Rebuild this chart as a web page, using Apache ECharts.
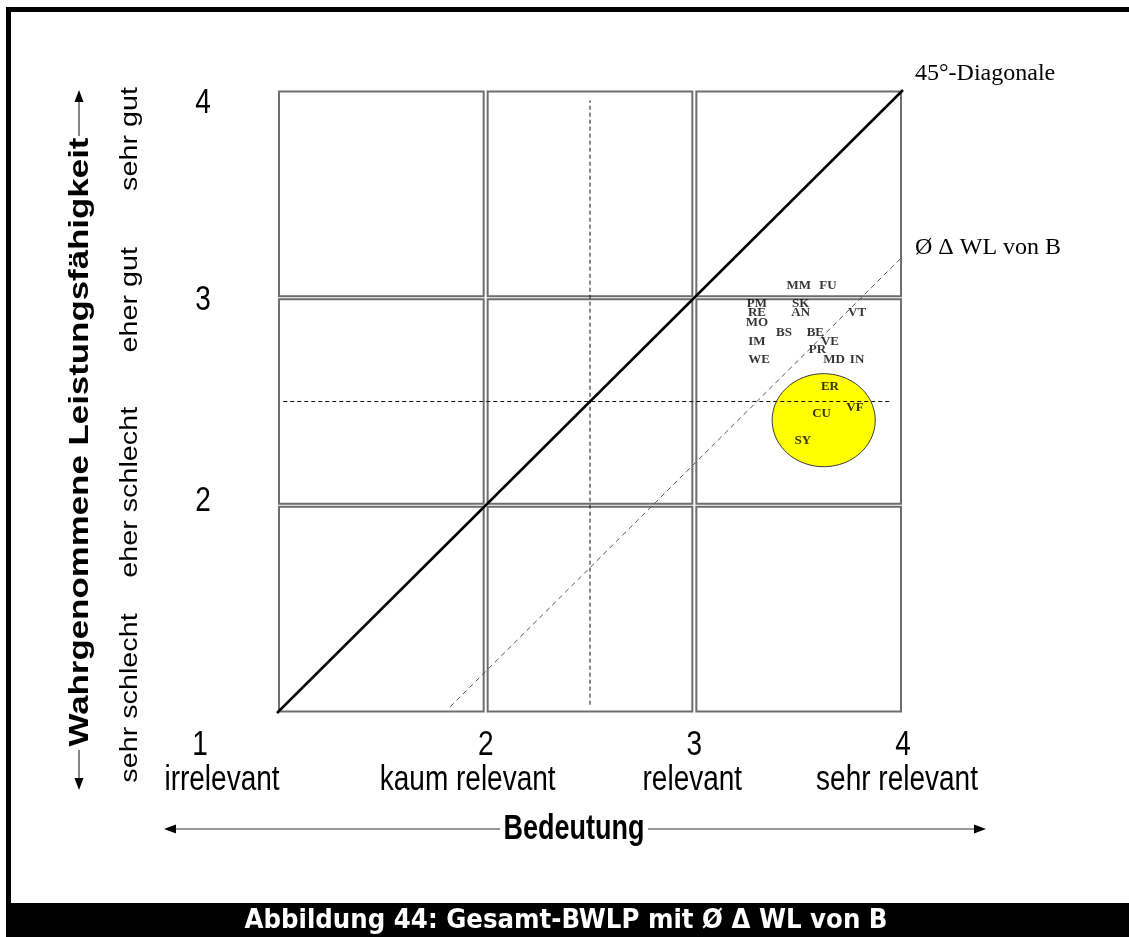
<!DOCTYPE html>
<html>
<head>
<meta charset="utf-8">
<script src="https://cdn.jsdelivr.net/npm/echarts@6/dist/echarts.min.js"></script>
<style>
html, body { margin: 0; padding: 0; background: #fff; }
#main { width: 1129px; height: 937px; }
</style>
</head>
<body>
<div id="main"></div>
<script>
// Skala 1..4 auf beiden Achsen
const xTicks = [1, 2, 3, 4];
const xTickWords = ['irrelevant', 'kaum relevant', 'relevant', 'sehr relevant'];
const yTicks = [2, 3, 4];
const yTickWords = ['sehr schlecht', 'eher schlecht', 'eher gut', 'sehr gut'];

// Kürzel der Merkmale mit Bedeutung (x) und wahrgenommener Leistungsfähigkeit (y)
const codes = ['MM', 'FU', 'PM', 'RE', 'MO', 'SK', 'AN', 'VT', 'BS', 'BE', 'VE', 'IM', 'PR', 'WE', 'MD', 'IN', 'ER', 'VF', 'CU', 'SY'];
const bedeutung = [3.50, 3.64, 3.30, 3.30, 3.30, 3.51, 3.51, 3.78, 3.43, 3.58, 3.65, 3.30, 3.59, 3.31, 3.67, 3.78, 3.65, 3.77, 3.61, 3.52];
const leistung = [3.06, 3.06, 2.97, 2.93, 2.88, 2.97, 2.93, 2.93, 2.83, 2.83, 2.79, 2.79, 2.75, 2.70, 2.70, 2.70, 2.57, 2.47, 2.44, 2.31];

// Hilfslinien
const diagonale = [[1, 1], [4, 4]];
const deltaWL = [[1.83, 1.03], [4, 3.2]];
const mitteSenkrecht = [[2.5, 1.04], [2.5, 3.95]];
const mitteWaagrecht = [[1.03, 2.5], [3.94, 2.5]];

// gelbe Ellipse: Mittelpunkt x, y und Halbachsen
const ellipse = [[3.62, 2.41, 0.247, 0.224]];

// 3x3 Felder [x0, x1, y0, y1]
const felder = [
    [1, 2, 1, 2], [2, 3, 1, 2], [3, 4, 1, 2],
    [1, 2, 2, 3], [2, 3, 2, 3], [3, 4, 2, 3],
    [1, 2, 3, 4], [2, 3, 3, 4], [3, 4, 3, 4]
];

const myChart = echarts.init(document.getElementById('main'));

const dashed = (data, color, dash) => ({
    type: 'line', data, symbol: 'none', silent: true, z: 4,
    lineStyle: { color, width: 1, type: dash }
});

const option = {
    animation: false,
    backgroundColor: '#fff',
    grid: { left: 277, right: 226, top: 90, bottom: 224 },
    xAxis: {
        type: 'value', min: 1, max: 4, interval: 1,
        axisLine: { show: false }, axisTick: { show: false },
        axisLabel: { show: false }, splitLine: { show: false }
    },
    yAxis: {
        type: 'value', min: 1, max: 4, interval: 1,
        axisLine: { show: false }, axisTick: { show: false },
        axisLabel: { show: false }, splitLine: { show: false }
    },
    series: [
        {
            // Felder
            type: 'custom', data: felder, silent: true, z: 1,
            encode: { x: [0, 1], y: [2, 3] },
            renderItem: (params, api) => {
                const p0 = api.coord([api.value(0), api.value(3)]);
                const p1 = api.coord([api.value(1), api.value(2)]);
                return {
                    type: 'rect',
                    shape: { x: p0[0] + 2, y: p0[1] + 1.5, width: p1[0] - p0[0] - 4, height: p1[1] - p0[1] - 3 },
                    style: { fill: '#fff', stroke: '#6e6e6e', lineWidth: 2 }
                };
            }
        },
        {
            // Ellipse
            type: 'custom', data: ellipse, silent: true, z: 2,
            encode: { x: 0, y: 1 },
            renderItem: (params, api) => {
                const c = api.coord([api.value(0), api.value(1)]);
                const s = api.size([api.value(2), api.value(3)]);
                const pts = [];
                for (let k = 0; k < 90; k++) {
                    const a = k / 90 * Math.PI * 2;
                    pts.push([c[0] + s[0] * Math.cos(a), c[1] + s[1] * Math.sin(a)]);
                }
                return {
                    type: 'polygon', shape: { points: pts },
                    style: { fill: '#ffff00', stroke: '#3a3a3a', lineWidth: 1 }
                };
            }
        },
        dashed(mitteSenkrecht, '#111', [4, 3]),
        dashed(mitteWaagrecht, '#111', [4, 3]),
        dashed(deltaWL, '#555', [5, 4]),
        {
            type: 'line', data: diagonale, symbol: 'none', silent: true, z: 5,
            lineStyle: { color: '#000', width: 2.5 }
        },
        {
            type: 'scatter', silent: true, z: 6, symbolSize: 0,
            data: codes.map((c, i) => ({ name: c, value: [bedeutung[i], leistung[i]] })),
            label: {
                show: true, position: 'inside', formatter: '{b}',
                fontFamily: 'Liberation Serif', fontWeight: 'bold', fontSize: 13, color: '#000'
            }
        }
    ]
};
myChart.setOption(option);

// Beschriftungen an den Achsenwerten ausrichten
const px = (x, y) => myChart.convertToPixel({ gridIndex: 0 }, [x, y]);
const sans = 'Liberation Sans';
const stretch = 1.28;

const text = (x, y, s, size, extra) => Object.assign({
    type: 'text', x, y, silent: true,
    style: {
        text: s, fontFamily: sans, fontSize: size, fill: '#000',
        align: 'center', verticalAlign: 'middle'
    }
}, extra || {});

const graphic = [];

// Rahmen und Bildunterschrift
graphic.push({ type: 'rect', shape: { x: 6, y: 7, width: 5, height: 930 }, style: { fill: '#000' }, silent: true });
graphic.push({ type: 'rect', shape: { x: 6, y: 7, width: 1123, height: 5 }, style: { fill: '#000' }, silent: true });
graphic.push({ type: 'rect', shape: { x: 6, y: 903, width: 1123, height: 34 }, style: { fill: '#000' }, silent: true });
const cap = text(566, 921, 'Abbildung 44: Gesamt-BWLP mit Ø Δ WL von B', 24.5, { scaleY: 1.05 });
cap.style.fontFamily = 'DejaVu Sans';
cap.style.fontWeight = 'bold';
cap.style.fill = '#fff';
graphic.push(cap);

// x-Achse
const xNumDx = [-77, 0, 0, 0];
const xWordDx = [-55, -18, -2, -6];
xTicks.forEach((v, i) => {
    const p = px(v, 1);
    graphic.push(text(p[0] + xNumDx[i], p[1] + 32, String(v), 28, { scaleY: stretch }));
    graphic.push(text(p[0] + xWordDx[i], p[1] + 67, xTickWords[i], 28, { scaleY: stretch }));
});

// y-Achse
const yNumDy = [-4, 2, 13];
yTicks.forEach((v, i) => {
    const p = px(1, v);
    graphic.push(text(203, p[1] + yNumDy[i], String(v), 28, { scaleY: stretch }));
});
const yWordDy = [-15, -13, 2, 49];
yTickWords.forEach((w, i) => {
    const p = px(1, i + 1);
    graphic.push(text(131, p[1] + yWordDy[i], w, 23, { rotation: Math.PI / 2, scaleX: 1.25 }));
});

// Achsentitel mit Pfeilen
const yTitle = text(80, 442, 'Wahrgenommene Leistungsfähigkeit', 28, { rotation: Math.PI / 2, scaleX: 1.245 });
yTitle.style.fontWeight = 'bold';
graphic.push(yTitle);
const xTitle = text(574, 829, 'Bedeutung', 27, { scaleY: stretch });
xTitle.style.fontWeight = 'bold';
graphic.push(xTitle);

const lineEl = (x1, y1, x2, y2) => ({
    type: 'line', silent: true, shape: { x1, y1, x2, y2 }, style: { stroke: '#333', lineWidth: 1.2 }
});
const head = (pts) => ({ type: 'polygon', silent: true, shape: { points: pts }, style: { fill: '#000' } });
graphic.push(lineEl(79, 100, 79, 136));
graphic.push(head([[79, 90], [74.5, 102], [83.5, 102]]));
graphic.push(lineEl(79, 750, 79, 780));
graphic.push(head([[79, 790], [74.5, 778], [83.5, 778]]));
graphic.push(lineEl(175, 829, 500, 829));
graphic.push(head([[164, 829], [176, 824.5], [176, 833.5]]));
graphic.push(lineEl(648, 829, 975, 829));
graphic.push(head([[986, 829], [974, 824.5], [974, 833.5]]));

// Beschriftung der Diagonalen
const serif = (x, y, s) => ({
    type: 'text', x, y, silent: true,
    style: { text: s, fontFamily: 'Liberation Serif', fontSize: 24, fill: '#000', align: 'left', verticalAlign: 'middle' }
});
const pd = px(4, 4);
graphic.push(serif(pd[0] + 12, pd[1] - 16, '45°-Diagonale'));
const pw = px(deltaWL[1][0], deltaWL[1][1]);
graphic.push(serif(pw[0] + 12, pw[1] - 8, 'Ø Δ WL von B'));

myChart.setOption({ graphic });
</script>
</body>
</html>
